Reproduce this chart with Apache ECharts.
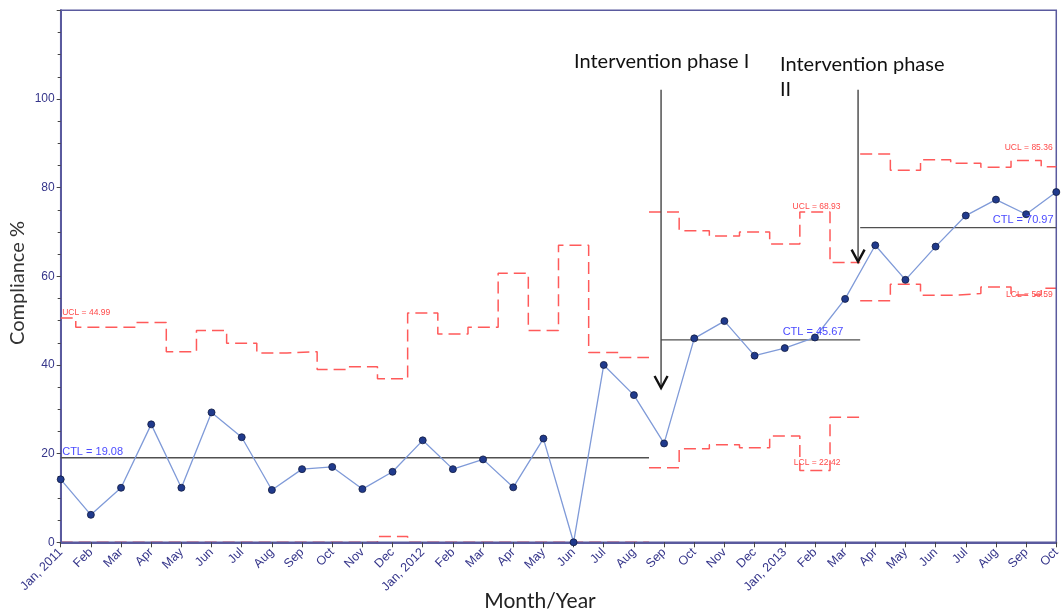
<!DOCTYPE html>
<html><head><meta charset="utf-8">
<script src="https://cdn.jsdelivr.net/npm/echarts@6/dist/echarts.min.js"></script>
<style>html,body{margin:0;padding:0;background:#fff}#c{width:1063px;height:612px}</style>
</head><body><div id="c"></div>
<script>
// ---- data ----
const months = ['Jan, 2011','Feb','Mar','Apr','May','Jun','Jul','Aug','Sep','Oct','Nov','Dec',
  'Jan, 2012','Feb','Mar','Apr','May','Jun','Jul','Aug','Sep','Oct','Nov','Dec',
  'Jan, 2013','Feb','Mar','Apr','May','Jun','Jul','Aug','Sep','Oct'];
const compliance = [14.2, 6.2, 12.3, 26.6, 12.3, 29.3, 23.7, 11.8, 16.5, 17.0, 12.0, 15.9,
  23.0, 16.5, 18.7, 12.4, 23.4, 0.0, 40.0, 33.2, 22.3, 46.0, 49.9, 42.1,
  43.8, 46.2, 54.9, 67.0, 59.2, 66.7, 73.7, 77.3, 74.0, 79.0];
const ucl = [50.6, 48.5, 48.5, 49.6, 43.0, 47.8, 44.9, 42.7, 43.0, 39.0, 39.6, 36.9,
  51.7, 47.0, 48.5, 60.7, 47.8, 67.0, 42.8, 41.7, 74.5, 70.3, 69.1, 70.0,
  67.3, 74.5, 63.1, 87.6, 83.9, 86.3, 85.5, 84.6, 86.1, 84.7];
// LCL values below 0 are shown clipped at 0
const lcl = [0, 0, 0, 0, 0, 0, 0, 0, 0, 0, 0, 1.3,
  0, 0, 0, 0, 0, 0, 0, 0, 16.8, 21.1, 22.0, 21.3,
  24.0, 16.2, 28.2, 54.5, 58.2, 55.7, 56.1, 57.6, 55.8, 57.3];
const phaseFirst = [0, 20, 27];
const phaseLast = [19, 26, 33];
const ctlValues = [19.08, 45.67, 70.97];
const ctlFrom = [0, 19.9, 26.5];
const ctlTo = [19.5, 26.5, 33];
const yTicks = [0, 20, 40, 60, 80, 100];
// arrows: x position, top value, tip value
const arrowX = [19.9, 26.43];
const arrowTop = [102.1, 102.1];
const arrowTip = [34.8, 63.3];
const annotTexts = ['Intervention phase I', 'Intervention phase\nII'];
// limit labels: x, y, text, kind
const limitLabelX = [0.05, 0.05, 24.26, 23.93, 24.3, 32.88, 32.91, 32.88];
const limitLabelY = [51.8, 20.4, 75.8, 47.4, 18.06, 89.1, 72.6, 55.75];
const limitLabelText = ['UCL = 44.99','CTL = 19.08','UCL = 68.93','CTL = 45.67','LCL = 22.42','UCL = 85.36','CTL = 70.97','LCL = 56.59'];
const limitLabelKind = ['u','c','u','c','u','u','c','u'];
const limitLabelAlign = ['left','left','left','left','left','right','right','right'];

// ---- build ----
const N = months.length - 1;
function stepPts(arr, a, b){
  const pts = [];
  for (let i = a; i <= b; i++){
    pts.push([Math.max(i - 0.5, 0), arr[i]]);
    pts.push([Math.min(i + 0.5, N), arr[i]]);
  }
  return pts;
}
const RED = '#ff5a5a';
const series = [];
for (let p = 0; p < 3; p++){
  series.push({type:'line', data: stepPts(ucl, phaseFirst[p], phaseLast[p]), symbol:'none', silent:true,
    lineStyle:{color:RED, width:1.5, type:[12,6]}, z:1});
  series.push({type:'line', data: stepPts(lcl, phaseFirst[p], phaseLast[p]), symbol:'none', silent:true,
    lineStyle:{color:RED, width:1.5, type:[12,6]}, z:-1});
  series.push({type:'line', data: [[ctlFrom[p], ctlValues[p]],[ctlTo[p], ctlValues[p]]], symbol:'none', silent:true,
    lineStyle:{color:'#505050', width:1.4}, z:1});
}
series.push({type:'line', data: compliance.map((v,i)=>[i,v]), symbol:'circle', symbolSize:7, clip:false,
  lineStyle:{color:'#7f9ad8', width:1.3}, itemStyle:{color:'#203a8c', borderColor:'#101a40', borderWidth:0.8}, z:3});
series.push({type:'custom', silent:true, z:4, clip:false,
  data: arrowX.map((x,i)=>[x, arrowTop[i], arrowTip[i]]),
  renderItem: function(params, api){
    const t = api.coord([api.value(0), api.value(1)]);
    const b = api.coord([api.value(0), api.value(2)]);
    return {type:'group', children:[
      {type:'line', shape:{x1:t[0], y1:t[1], x2:b[0], y2:b[1]}, style:{stroke:'#444', lineWidth:1.4}},
      {type:'polyline', shape:{points:[[b[0]-6.5, b[1]-12],[b[0], b[1]],[b[0]+6.5, b[1]-12]]}, style:{stroke:'#111', lineWidth:2.4, fill:null}}
    ]};
  }});
series.push({type:'custom', silent:true, z:5, clip:false,
  data: limitLabelX.map((x,i)=>[x, limitLabelY[i]]),
  renderItem: function(params, api){
    const i = params.dataIndex;
    const c = api.coord([api.value(0), api.value(1)]);
    const isC = limitLabelKind[i] === 'c';
    return {type:'text', x:c[0], y:c[1], style:{text: limitLabelText[i],
      fill: isC ? '#4b4bff' : '#ff4a4a', font: (isC ? '11px' : '8.5px') + ' "Liberation Sans", Arial, sans-serif',
      align: limitLabelAlign[i], verticalAlign:'middle'}};
  }});

const chart = echarts.init(document.getElementById('c'), null, {renderer:'canvas'});
const AX = '#5a5a9e';
chart.setOption({
  animation:false,
  grid:{left:60.7, right:6, top:10.3, bottom:69.7, show:true, borderColor:AX, borderWidth:1.5},
  xAxis:{type:'value', min:0, max:N, interval:1,
    axisLine:{show:true, onZero:false, lineStyle:{color:AX, width:2}},
    axisTick:{show:true, length:5, lineStyle:{color:'#444'}},
    splitLine:{show:false},
    axisLabel:{rotate:45, margin:8, color:'#35358a', fontSize:12.5, fontFamily:'"Liberation Sans", Arial, sans-serif',
      formatter: v => months[Math.round(v)] || ''}},
  yAxis:{type:'value', min:0, max:120, interval:20,
    axisLine:{show:true, lineStyle:{color:AX, width:2}},
    axisTick:{show:true, length:4, lineStyle:{color:'#444'}},
    minorTick:{show:true, splitNumber:4, length:3, lineStyle:{color:'#444'}},
    splitLine:{show:false},
    axisLabel:{color:'#35358a', fontSize:12, margin:6, fontFamily:'"Liberation Sans", Arial, sans-serif',
      formatter: v => yTicks.indexOf(v) >= 0 ? String(v) : ''}},
  graphic:[
    {type:'text', left:574, top:52, style:{text:annotTexts[0], font:'20px Lato, sans-serif', fill:'#111'}},
    {type:'text', left:780, top:52, style:{text:annotTexts[1], font:'20px Lato, sans-serif', fill:'#111', lineHeight:25}},
    {type:'text', x:18, y:283, rotation:Math.PI/2, style:{text:'Compliance %', font:'20px Lato, sans-serif', fill:'#333', align:'center', verticalAlign:'middle'}},
    {type:'text', x:540, y:601, style:{text:'Month/Year', font:'21px Lato, sans-serif', fill:'#222', align:'center', verticalAlign:'middle'}}
  ],
  series: series
});
</script></body></html>
